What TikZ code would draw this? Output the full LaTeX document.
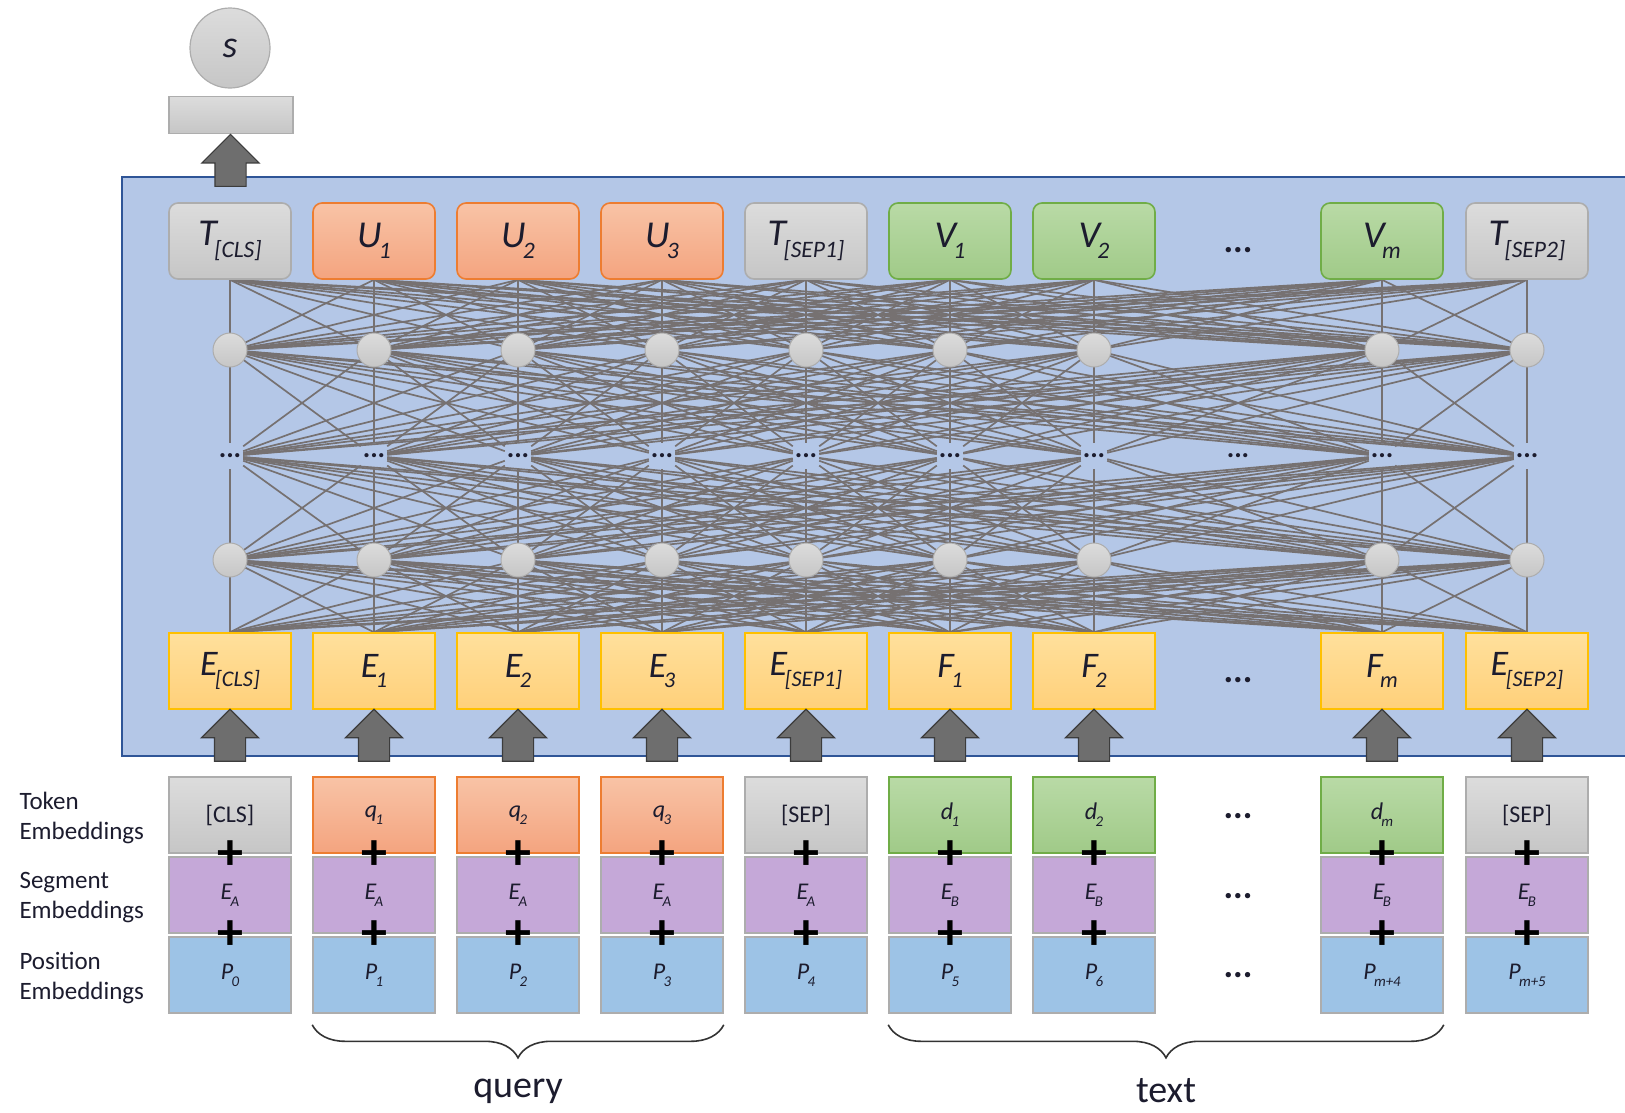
\documentclass[tikz,border=0pt]{standalone}
\usepackage{fontspec}
\setmainfont{Carlito}
\usetikzlibrary{shapes.arrows,calc,decorations.pathreplacing}

\definecolor{panelfill}{HTML}{B4C7E7}
\definecolor{paneledge}{HTML}{2F5597}
\definecolor{ink}{HTML}{1C1C2E}
\definecolor{greyhi}{HTML}{DCDCDC}
\definecolor{greylo}{HTML}{C6C6C6}
\definecolor{greyedge}{HTML}{ADADAD}
\definecolor{orangehi}{HTML}{F8C3A6}
\definecolor{orangelo}{HTML}{F4A47F}
\definecolor{orangeedge}{HTML}{ED7D31}
\definecolor{greenhi}{HTML}{B9DAA6}
\definecolor{greenlo}{HTML}{A0CA88}
\definecolor{greenedge}{HTML}{70AD47}
\definecolor{yellowhi}{HTML}{FFE09C}
\definecolor{yellowlo}{HTML}{FFD07A}
\definecolor{yellowedge}{HTML}{FFC000}
\definecolor{segfill}{HTML}{C5A8D8}
\definecolor{posfill}{HTML}{9DC3E6}
\definecolor{wiregrey}{HTML}{767171}
\definecolor{arrowfill}{HTML}{6E6E6E}
\definecolor{arrowedge}{HTML}{3C3C3C}

\pgfdeclarelayer{back}
\pgfdeclarelayer{wires}
\pgfsetlayers{back,wires,main}

\newcommand{\tokname}[2]{{\itshape #1}\kern-0.07em\raisebox{-0.3em}{\scalebox{0.62}{\itshape #2}}}

\tikzset{
  cell/.style={minimum width=122pt, minimum height=76pt, inner sep=0pt, line width=1.6pt, text=ink},
  trow/.style={cell, rounded corners=9pt, font=\fontsize{38}{40}\selectfont},
  erow/.style={cell, draw=yellowedge, top color=yellowhi, bottom color=yellowlo, font=\fontsize{36}{40}\selectfont},
  krow/.style={cell, font=\fontsize{24}{28}\selectfont},
  segrow/.style={krow, draw=greyedge, fill=segfill},
  posrow/.style={krow, draw=greyedge, fill=posfill},
  greyfill/.style={draw=greyedge, top color=greyhi, bottom color=greylo},
  orangefill/.style={draw=orangeedge, top color=orangehi, bottom color=orangelo},
  greenfill/.style={draw=greenedge, top color=greenhi, bottom color=greenlo},
  neuron/.style={circle, minimum size=34pt, inner sep=0pt, draw=greyedge, line width=1pt, top color=greyhi, bottom color=greylo},
  hdots/.style={minimum width=26pt, minimum height=26pt, inner sep=0pt, text=ink, font=\fontsize{28}{28}\selectfont\bfseries},
  gapdots/.style={inner sep=0pt, text=ink, font=\fontsize{36}{36}\selectfont\bfseries},
  wire/.style={wiregrey, line width=1.7pt},
  blockup/.style={single arrow, rotate=90, draw=arrowedge, fill=arrowfill, line width=1.2pt, single arrow head extend=13pt, single arrow tip angle=90, inner xsep=0pt, inner ysep=15pt, minimum width=56pt, minimum height=52pt},
  plussign/.style={inner sep=0pt, text=black, font=\fontsize{52}{52}\selectfont\bfseries},
  sidelab/.style={anchor=west, align=left, text=ink, font=\fontsize{25}{30}\selectfont},
  curly/.style={decorate, decoration={brace, mirror, amplitude=33pt}, line width=1.6pt, draw=black!80},
  bracelab/.style={text=ink, font=\fontsize{38}{40}\selectfont},
}

\begin{document}
\begin{tikzpicture}[x=1pt, y=-1pt]
\useasboundingbox (0,0) rectangle (1625,1112);

% encoder panel
\begin{pgfonlayer}{back}
\fill[panelfill] (122,177) rectangle (1630,756);
\draw[paneledge, line width=2pt] (1630,177) -- (122,177) -- (122,756) -- (1630,756);
\end{pgfonlayer}

% one column per token
\foreach \i/\x/\c/\tl/\el/\kl/\sl/\pl in {
  1/230/greyfill/{\tokname{T}{[CLS]}}/{\tokname{E}{[CLS]}}/{[CLS]}/{\tokname{E}{A}}/{\tokname{P}{0}},
  2/374/orangefill/{\tokname{U}{1}}/{\tokname{E}{1}}/{\tokname{q}{1}}/{\tokname{E}{A}}/{\tokname{P}{1}},
  3/518/orangefill/{\tokname{U}{2}}/{\tokname{E}{2}}/{\tokname{q}{2}}/{\tokname{E}{A}}/{\tokname{P}{2}},
  4/662/orangefill/{\tokname{U}{3}}/{\tokname{E}{3}}/{\tokname{q}{3}}/{\tokname{E}{A}}/{\tokname{P}{3}},
  5/806/greyfill/{\tokname{T}{[SEP1]}}/{\tokname{E}{[SEP1]}}/{[SEP]}/{\tokname{E}{A}}/{\tokname{P}{4}},
  6/950/greenfill/{\tokname{V}{1}}/{\tokname{F}{1}}/{\tokname{d}{1}}/{\tokname{E}{B}}/{\tokname{P}{5}},
  7/1094/greenfill/{\tokname{V}{2}}/{\tokname{F}{2}}/{\tokname{d}{2}}/{\tokname{E}{B}}/{\tokname{P}{6}},
  8/1382/greenfill/{\tokname{V}{m}}/{\tokname{F}{m}}/{\tokname{d}{m}}/{\tokname{E}{B}}/{\tokname{P}{m+4}},
  9/1527/greyfill/{\tokname{T}{[SEP2]}}/{\tokname{E}{[SEP2]}}/{[SEP]}/{\tokname{E}{B}}/{\tokname{P}{m+5}}}{
  \node[trow, \c] (t\i) at (\x,241) {\tl};
  \node[neuron] (ca\i) at (\x,350) {};
  \node[hdots] (hd\i) at (\x,456) {...};
  \node[neuron] (cb\i) at (\x,560) {};
  \node[erow] (e\i) at (\x,671) {\el};
  \node[krow, \c] (k\i) at (\x,815) {\kl};
  \node[segrow] (s\i) at (\x,895) {\sl};
  \node[posrow] (p\i) at (\x,975) {\pl};
  \node[plussign] (pa\i) at ($(k\i.south)!0.5!(s\i.north)$) {+};
  \node[plussign] (pb\i) at ($(s\i.south)!0.5!(p\i.north)$) {+};
  \node[blockup] (ar\i) at ($(k\i.north)!0.5!(e\i.south)$) {};
}

% gap column
\node[gapdots] (gt) at (1238,250) {...};
\node[hdots] (gh) at (1238,456) {...};
\node[gapdots] (ge) at (1238,680) {...};
\node[gapdots] (gk) at (1238,816) {...};
\node[gapdots] (gs) at (1238,896) {...};
\node[gapdots] (gp) at (1238,975) {...};

% fully connected layers
\begin{pgfonlayer}{wires}
\foreach \i in {1,...,9}
  \foreach \j in {1,...,9} {
    \draw[wire] (t\i.south) -- (ca\j.center);
    \draw[wire] (ca\i.center) -- (hd\j);
    \draw[wire] (hd\i) -- (cb\j.center);
    \draw[wire] (cb\i.center) -- (e\j.north);
  }
\end{pgfonlayer}

% output score
\node[circle, minimum size=80pt, inner sep=0pt, draw=greyedge, line width=1.2pt, top color=greyhi, bottom color=greylo, text=ink, font=\fontsize{38}{40}\selectfont] (score) at (230,48) {\textit{s}};
\node[draw=greyedge, line width=1.2pt, top color=greyhi, bottom color=greylo, minimum width=124pt, minimum height=37pt, inner sep=0pt] (pool) at (231,115) {};
\node[blockup] (arout) at ($(t1.north)!0.5!(pool.south)$) {};

% row labels
\node[sidelab] (toklab) at (16,818) {Token\\Embeddings};
\node[sidelab] (seglab) at (16,898) {Segment\\Embeddings};
\node[sidelab] (poslab) at (16,978) {Position\\Embeddings};

% braces
\draw[curly] ([yshift=-11pt]p2.south west) -- ([yshift=-11pt]p4.south east);
\draw[curly] ([yshift=-11pt]p6.south west) -- ([yshift=-11pt]p8.south east);
\node[bracelab] (query) at (518,1091) {query};
\node[bracelab] (text) at (1166,1091) {text};
\end{tikzpicture}
\end{document}
